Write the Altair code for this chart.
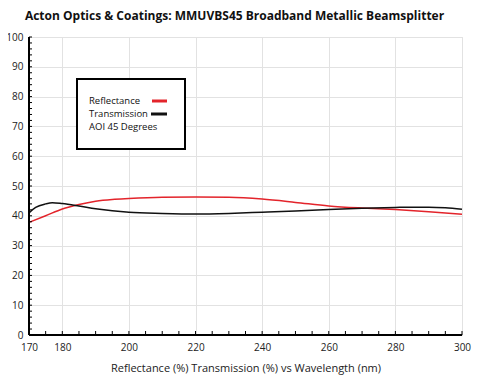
import altair as alt
import pandas as pd

wl_r = [170, 175, 180, 185, 190, 195, 200, 210, 220, 230, 240, 250, 260, 270, 280, 290, 300]
refl = [37.8, 40.0, 42.3, 43.8, 44.9, 45.5, 45.8, 46.2, 46.3, 46.2, 45.6, 44.5, 43.3, 42.6, 42.1, 41.4, 40.5]

wl_t = [170, 172, 175, 177, 180, 185, 190, 195, 200, 210, 220, 230, 240, 250, 260, 270, 280, 285, 290, 295, 300]
trans = [41.0, 42.8, 44.0, 44.4, 44.1, 43.3, 42.4, 41.7, 41.2, 40.8, 40.6, 40.8, 41.2, 41.6, 42.1, 42.5, 42.8, 42.9, 42.9, 42.7, 42.2]

x_labels = [170, 180, 200, 220, 240, 260, 280, 300]
y_labels = list(range(0, 101, 10))
x_minor = list(range(170, 301, 5))
y_minor = list(range(0, 101, 2))
legend_labels = ["Reflectance", "Transmission", "AOI 45 Degrees"]

W, H = 433, 298
FONT = "Open Sans"

df_r = pd.DataFrame({"wl": wl_r, "v": refl})
df_t = pd.DataFrame({"wl": wl_t, "v": trans})

xs = alt.Scale(domain=[170, 300], nice=False, zero=False)
ys = alt.Scale(domain=[0, 100], nice=False)

xax = alt.Axis(values=x_labels, ticks=False, domain=False, grid=True, gridColor="#e2e2e2",
               labelFontSize=10, labelFont=FONT, labelPadding=7, labelColor="#222",
               labelOverlap=False, labelFlush=False,
               title="Reflectance (%) Transmission (%) vs Wavelength (nm)",
               titleFont=FONT, titleFontSize=11, titleFontWeight="normal", titlePadding=10,
               titleColor="#222")
yax = alt.Axis(values=y_labels, ticks=False, domain=False, grid=True,
               gridColor="#e2e2e2", labelFontSize=10, labelFont=FONT, labelPadding=6,
               labelColor="#222", labelOverlap=False, labelFlush=False, title=None)

base_r = alt.Chart(df_r).mark_line(color="#e3242b", strokeWidth=1.5, interpolate="monotone").encode(
    x=alt.X("wl:Q", scale=xs, axis=xax),
    y=alt.Y("v:Q", scale=ys, axis=yax),
)
base_t = alt.Chart(df_t).mark_line(color="#111111", strokeWidth=1.5, interpolate="monotone").encode(
    x=alt.X("wl:Q", scale=xs, axis=xax),
    y=alt.Y("v:Q", scale=ys, axis=yax),
)

# axis lines and inward ticks
dom_x = alt.Chart(pd.DataFrame({"a": [0]})).mark_rule(color="#000", strokeWidth=2).encode(
    x=alt.value(0), x2=alt.value(W), y=alt.value(H))
dom_y = alt.Chart(pd.DataFrame({"a": [0]})).mark_rule(color="#000", strokeWidth=2).encode(
    x=alt.value(0), y=alt.value(0), y2=alt.value(H))
tick_x = alt.Chart(pd.DataFrame({"t": x_minor})).mark_rule(color="#000", strokeWidth=1).encode(
    x=alt.X("t:Q", scale=xs, axis=xax), y=alt.value(H - 4), y2=alt.value(H))
tick_y = alt.Chart(pd.DataFrame({"t": y_minor})).mark_rule(color="#000", strokeWidth=1).encode(
    y=alt.Y("t:Q", scale=ys, axis=yax), x=alt.value(0), x2=alt.value(3))

# legend box
box = alt.Chart(pd.DataFrame({"a": [0]})).mark_rect(fill="white", stroke="#000", strokeWidth=2).encode(
    x=alt.value(48), x2=alt.value(156), y=alt.value(42), y2=alt.value(112))
layers = [base_r, base_t, dom_x, dom_y, tick_x, tick_y, box]
for i, lab in enumerate(legend_labels):
    layers.append(
        alt.Chart(pd.DataFrame({"l": [lab]})).mark_text(
            align="left", baseline="middle", font=FONT, fontSize=9.5, color="#111").encode(
            x=alt.value(60), y=alt.value(64 + 13 * i), text="l:N"))
leg_r = alt.Chart(pd.DataFrame({"a": [0]})).mark_rule(color="#e3242b", strokeWidth=3).encode(
    x=alt.value(123), x2=alt.value(138), y=alt.value(64))
leg_t = alt.Chart(pd.DataFrame({"a": [0]})).mark_rule(color="#111", strokeWidth=3).encode(
    x=alt.value(122), x2=alt.value(138), y=alt.value(77))
layers += [leg_r, leg_t]

chart = alt.layer(*layers).properties(
    width=W, height=H,
    title=alt.TitleParams("Acton Optics & Coatings: MMUVBS45 Broadband Metallic Beamsplitter",
                          font=FONT, fontSize=12, fontWeight="bold", color="#111",
                          anchor="middle", dx=-11, offset=9),
    autosize=alt.AutoSizeParams(type="none"),
    padding={"left": 21, "top": 29, "right": 10, "bottom": 41},
).configure_view(stroke="#999", strokeWidth=1.5).configure(background="white")

chart.save("out.html", embed_options={"renderer": "svg", "actions": False})
